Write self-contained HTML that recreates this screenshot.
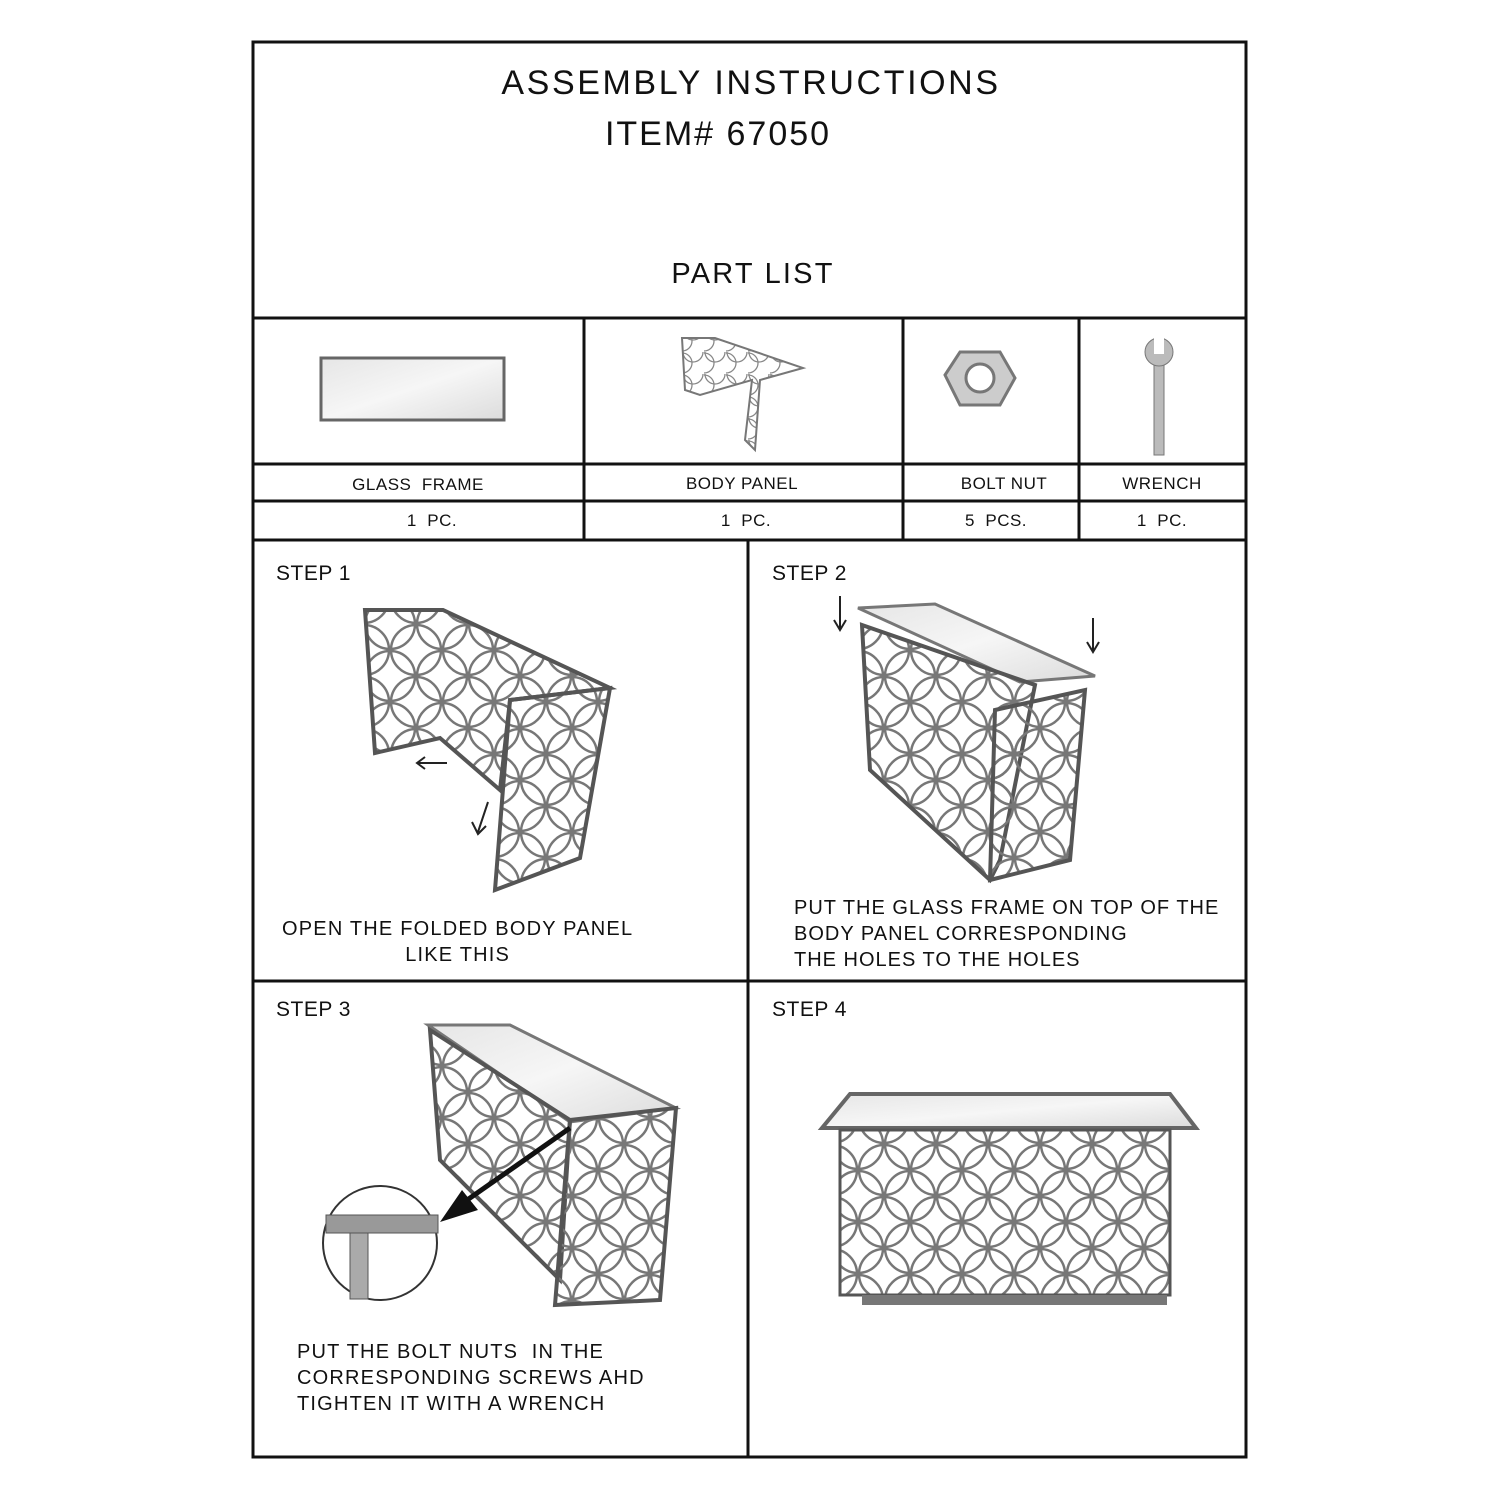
<!DOCTYPE html>
<html><head><meta charset="utf-8"><style>
body{margin:0;background:#fff;width:1500px;height:1500px;position:relative;font-family:"Liberation Sans",sans-serif;color:#111;overflow:hidden}
.t{position:absolute;white-space:nowrap}
.c{transform:translateX(-50%)}
svg{position:absolute;left:0;top:0}
</style></head><body>
<svg width="1500" height="1500" viewBox="0 0 1500 1500">
<defs>
<pattern id="lat" width="52" height="52" patternUnits="userSpaceOnUse">
<circle cx="26" cy="0" r="25" fill="none" stroke="#777" stroke-width="2.5"/>
<circle cx="26" cy="52" r="25" fill="none" stroke="#777" stroke-width="2.5"/>
<circle cx="0" cy="26" r="25" fill="none" stroke="#777" stroke-width="2.5"/>
<circle cx="52" cy="26" r="25" fill="none" stroke="#777" stroke-width="2.5"/>
</pattern>
<pattern id="lats" width="22" height="22" patternUnits="userSpaceOnUse">
<circle cx="11" cy="0" r="10" fill="none" stroke="#888" stroke-width="1.3"/>
<circle cx="0" cy="11" r="10" fill="none" stroke="#888" stroke-width="1.3"/>
</pattern>
<linearGradient id="gl" x1="0" y1="0" x2="1" y2="1"><stop offset="0" stop-color="#e6e6e6"/><stop offset=".5" stop-color="#f6f6f6"/><stop offset="1" stop-color="#dcdcdc"/></linearGradient>
</defs>
<g fill="none" stroke="#111" stroke-width="3">
<rect x="253" y="42" width="993" height="1415"/>
<line x1="253" y1="318" x2="1246" y2="318"/>
<line x1="253" y1="464" x2="1246" y2="464"/>
<line x1="253" y1="501" x2="1246" y2="501"/>
<line x1="253" y1="540" x2="1246" y2="540"/>
<line x1="584" y1="318" x2="584" y2="540"/>
<line x1="903" y1="318" x2="903" y2="540"/>
<line x1="1079" y1="318" x2="1079" y2="540"/>
<line x1="748" y1="540" x2="748" y2="1457"/>
<line x1="253" y1="981" x2="1246" y2="981"/>
</g>
<!-- parts -->
<rect x="321" y="358" width="183" height="62" fill="url(#gl)" stroke="#666" stroke-width="3"/>
<polygon points="682,338 715,338 803,368 760,380 755,450 745,440 752,380 700,395 685,390" fill="url(#lats)" stroke="#777" stroke-width="2"/>
<polygon points="945,375 960,352 1000,352 1015,378 1000,405 960,405" fill="#ccc" stroke="#777" stroke-width="3"/>
<circle cx="980" cy="378" r="14" fill="#fff" stroke="#777" stroke-width="3"/>
<rect x="1154" y="365" width="10" height="90" fill="#bbb" stroke="#777"/>
<circle cx="1159" cy="352" r="14" fill="#bbb" stroke="#777"/>
<rect x="1154" y="336" width="10" height="18" fill="#fff"/>
<!-- step 1 -->
<polygon points="365,610 443,610 610,688 510,700 500,790 440,738 375,753" fill="url(#lat)" stroke="#555" stroke-width="4"/>
<polygon points="510,700 610,688 580,858 495,890" fill="url(#lat)" stroke="#555" stroke-width="4"/>
<line x1="418" y1="763" x2="447" y2="763" stroke="#222" stroke-width="2"/><polyline points="425,757 417,763 425,769" fill="none" stroke="#222" stroke-width="2"/>
<line x1="488" y1="802" x2="478" y2="832" stroke="#222" stroke-width="2"/>
<polyline points="472,822 478,834 486,826" fill="none" stroke="#222" stroke-width="2"/>
<!-- step 2 -->
<polygon points="858,608 935,604 1095,676 1020,682" fill="url(#gl)" stroke="#777" stroke-width="3"/>
<polygon points="862,625 1035,685 1000,860 990,880 870,770" fill="url(#lat)" stroke="#555" stroke-width="4"/>
<polygon points="995,710 1085,690 1070,860 990,880" fill="url(#lat)" stroke="#555" stroke-width="4"/>
<line x1="840" y1="596" x2="840" y2="628" stroke="#222" stroke-width="2"/><polyline points="834,620 840,630 846,620" fill="none" stroke="#222" stroke-width="2"/>
<line x1="1093" y1="618" x2="1093" y2="650" stroke="#222" stroke-width="2"/><polyline points="1087,642 1093,652 1099,642" fill="none" stroke="#222" stroke-width="2"/>
<!-- step 3 -->
<polygon points="428,1025 510,1025 676,1108 570,1122" fill="url(#gl)" stroke="#777" stroke-width="3"/>
<polygon points="430,1030 570,1120 560,1280 440,1160" fill="url(#lat)" stroke="#555" stroke-width="4"/>
<polygon points="570,1120 676,1108 660,1300 555,1305" fill="url(#lat)" stroke="#555" stroke-width="4"/>
<line x1="570" y1="1128" x2="460" y2="1205" stroke="#111" stroke-width="5"/>
<polygon points="440,1222 478,1210 462,1190" fill="#111"/>
<circle cx="380" cy="1243" r="57" fill="#fff" stroke="#333" stroke-width="2"/>
<rect x="326" y="1215" width="112" height="18" fill="#999" stroke="#555"/>
<rect x="350" y="1233" width="18" height="66" fill="#aaa" stroke="#555"/>
<!-- step 4 -->
<polygon points="850,1094 1170,1094 1196,1128 822,1128" fill="url(#gl)" stroke="#666" stroke-width="4"/>
<rect x="840" y="1130" width="330" height="165" fill="url(#lat)" stroke="#555" stroke-width="3"/>
<rect x="862" y="1295" width="305" height="10" fill="#777"/>
</svg>
<div class="t c" style="left:751px;top:64px;font-size:34px;letter-spacing:2.6px">ASSEMBLY INSTRUCTIONS</div>
<div class="t c" style="left:718px;top:115px;font-size:34px;letter-spacing:2px">ITEM# 67050</div>
<div class="t c" style="left:753px;top:258px;font-size:29px;letter-spacing:2.2px">PART LIST</div>
<div class="t c" style="left:418px;top:475px;font-size:17px;letter-spacing:0.5px">GLASS&nbsp; FRAME</div>
<div class="t c" style="left:742px;top:474px;font-size:17px;letter-spacing:0.5px">BODY PANEL</div>
<div class="t c" style="left:1004px;top:474px;font-size:17px;letter-spacing:0.5px">BOLT NUT</div>
<div class="t c" style="left:1162px;top:474px;font-size:17px;letter-spacing:0.5px">WRENCH</div>
<div class="t c" style="left:432px;top:511px;font-size:17px;letter-spacing:0.5px">1&nbsp; PC.</div>
<div class="t c" style="left:746px;top:511px;font-size:17px;letter-spacing:0.5px">1&nbsp; PC.</div>
<div class="t c" style="left:996px;top:511px;font-size:17px;letter-spacing:0.5px">5&nbsp; PCS.</div>
<div class="t c" style="left:1162px;top:511px;font-size:17px;letter-spacing:0.5px">1&nbsp; PC.</div>
<div class="t" style="left:276px;top:562px;font-size:21px;letter-spacing:0.5px">STEP 1</div>
<div class="t" style="left:772px;top:562px;font-size:21px;letter-spacing:0.5px">STEP 2</div>
<div class="t" style="left:276px;top:998px;font-size:21px;letter-spacing:0.5px">STEP 3</div>
<div class="t" style="left:772px;top:998px;font-size:21px;letter-spacing:0.5px">STEP 4</div>
<div class="t" style="left:282px;top:916px;font-size:20px;text-align:center;line-height:26px;letter-spacing:1.2px">OPEN THE FOLDED BODY PANEL<br>LIKE THIS</div>
<div class="t" style="left:794px;top:895px;font-size:20px;line-height:26px;letter-spacing:1px">PUT THE GLASS FRAME ON TOP OF THE<br>BODY PANEL CORRESPONDING<br>THE HOLES TO THE HOLES</div>
<div class="t" style="left:297px;top:1339px;font-size:20px;line-height:26px;letter-spacing:1.2px">PUT THE BOLT NUTS&nbsp; IN THE<br>CORRESPONDING SCREWS AHD<br>TIGHTEN IT WITH A WRENCH</div>
</body></html>
